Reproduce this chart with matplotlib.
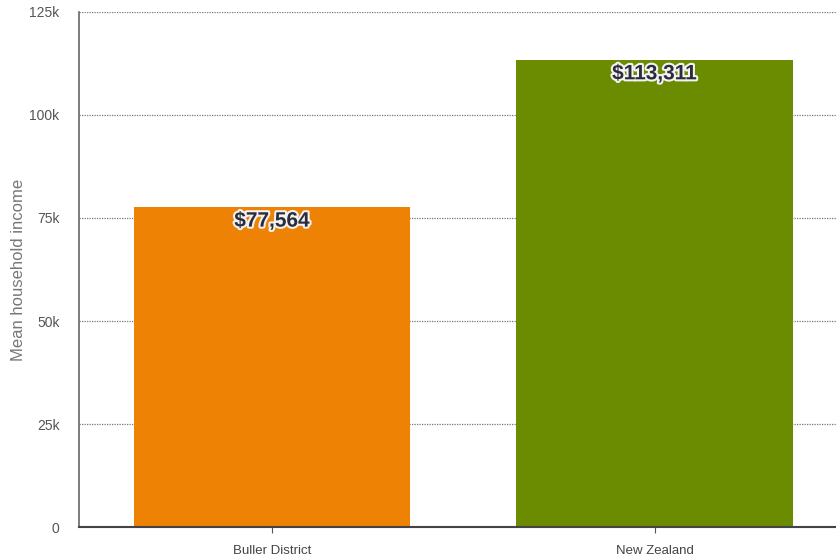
import matplotlib.pyplot as plt
import matplotlib.patheffects as pe
from matplotlib.ticker import FuncFormatter

plt.rcParams['font.family'] = ['Liberation Sans', 'DejaVu Sans']

regions = ['Buller District', 'New Zealand']
incomes = [77564, 113311]
bar_colors = ['#EE8205', '#6B8C00']

fig = plt.figure(figsize=(8.36, 5.60), dpi=100)
ax = fig.add_axes([0.0945, 0.0589, 0.9055, 0.9197])

bars = ax.bar(range(len(regions)), incomes, width=0.723, color=bar_colors, zorder=2)

for b, v in zip(bars, incomes):
    ax.annotate('${:,}'.format(v), (b.get_x() + b.get_width() / 2, v),
                xytext=(0, -3), textcoords='offset points', ha='center', va='top',
                fontsize=15, fontweight='bold', color='#2b2b3b', zorder=3,
                path_effects=[pe.withStroke(linewidth=3, foreground='#f2f2f2')])

ax.set_xlim(-0.504, 1.473)
ax.set_ylim(0, 125000)
ax.set_yticks([0, 25000, 50000, 75000, 100000, 125000])
ax.yaxis.set_major_formatter(FuncFormatter(lambda y, p: '0' if y == 0 else '%dk' % (y / 1000)))
ax.set_xticks(range(len(regions)))
ax.set_xticklabels(regions)

ax.grid(axis='y', linestyle=(0, (1, 1)), color='#777777', linewidth=0.9, zorder=0)
ax.set_axisbelow(True)
for s in ['top', 'right']:
    ax.spines[s].set_visible(False)
ax.spines['left'].set_color('#666666')
ax.spines['left'].set_linewidth(1.2)
ax.spines['bottom'].set_color('#444444')
ax.spines['bottom'].set_linewidth(1.5)

ax.tick_params(axis='y', length=0, pad=14, labelsize=10, labelcolor='#555555')
ax.tick_params(axis='x', length=4, color='#555555', pad=9, labelsize=9.5, labelcolor='#444444')
ax.set_ylabel('Mean household income', fontsize=12, color='#777777')
ax.yaxis.set_label_coords(-0.07, 0.5)

fig.savefig('out.png', dpi=100)
